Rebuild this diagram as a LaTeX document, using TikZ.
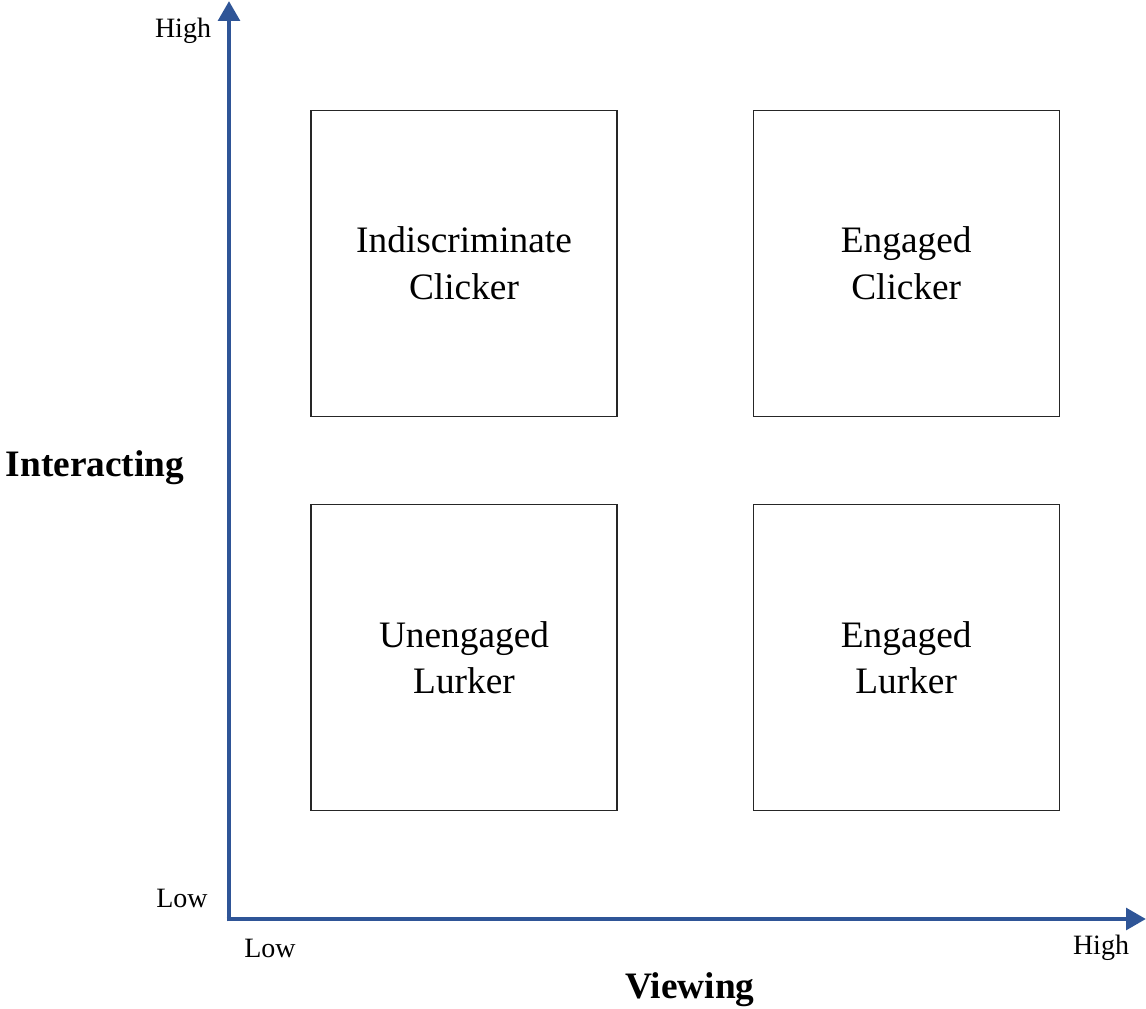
\documentclass[tikz,border=0pt]{standalone}
\usepackage{fontspec}
\setmainfont{Liberation Serif}
\usetikzlibrary{arrows.meta,positioning}
\definecolor{axisblue}{RGB}{47,85,151}
\tikzset{
  quad/.style={draw=black!85, line width=0.9pt, minimum width=229.5pt, minimum height=229.5pt,
               align=center, font=\fontsize{28}{35}\selectfont, inner sep=0pt},
  axarr/.style={-{Triangle[length=15pt, width=16pt]}, axisblue, line width=3.6pt},
  ticklbl/.style={font=\fontsize{21}{25}\selectfont},
  axlbl/.style={font=\fontsize{28}{34}\selectfont\bfseries},
}
\begin{document}
\begin{tikzpicture}[x=0.75pt, y=-0.75pt]
  \useasboundingbox (0,0) rectangle (1146,1009);
  % axes
  \coordinate (orig) at (229,919);
  \coordinate (ytip) at (229,1);
  \coordinate (xtip) at (1146,919);
  \draw[axarr] ([yshift=-1.8pt]orig) -- (ytip);
  \draw[axarr] ([xshift=-1.8pt]orig) -- (xtip);
  % quadrants
  \node[quad] (ic) at (464,263.5) {Indiscriminate\\Clicker};
  \node[quad, right=101.25pt of ic] (ec) {Engaged\\Clicker};
  \node[quad, below=65.25pt of ic] (ul) {Unengaged\\Lurker};
  \node[quad, below=65.25pt of ec] (el) {Engaged\\Lurker};
  % labels
  \node[ticklbl] (yhigh) at (183,31) {High};
  \node[ticklbl] (ylow) at (182,898) {Low};
  \node[ticklbl] (xlow) at (270,948) {Low};
  \node[ticklbl] (xhigh) at (1101,948) {High};
  \node[axlbl] (ylbl) at (95,468) {Interacting};
  \node[axlbl] (xlbl) at (690,990) {Viewing};
\end{tikzpicture}
\end{document}
